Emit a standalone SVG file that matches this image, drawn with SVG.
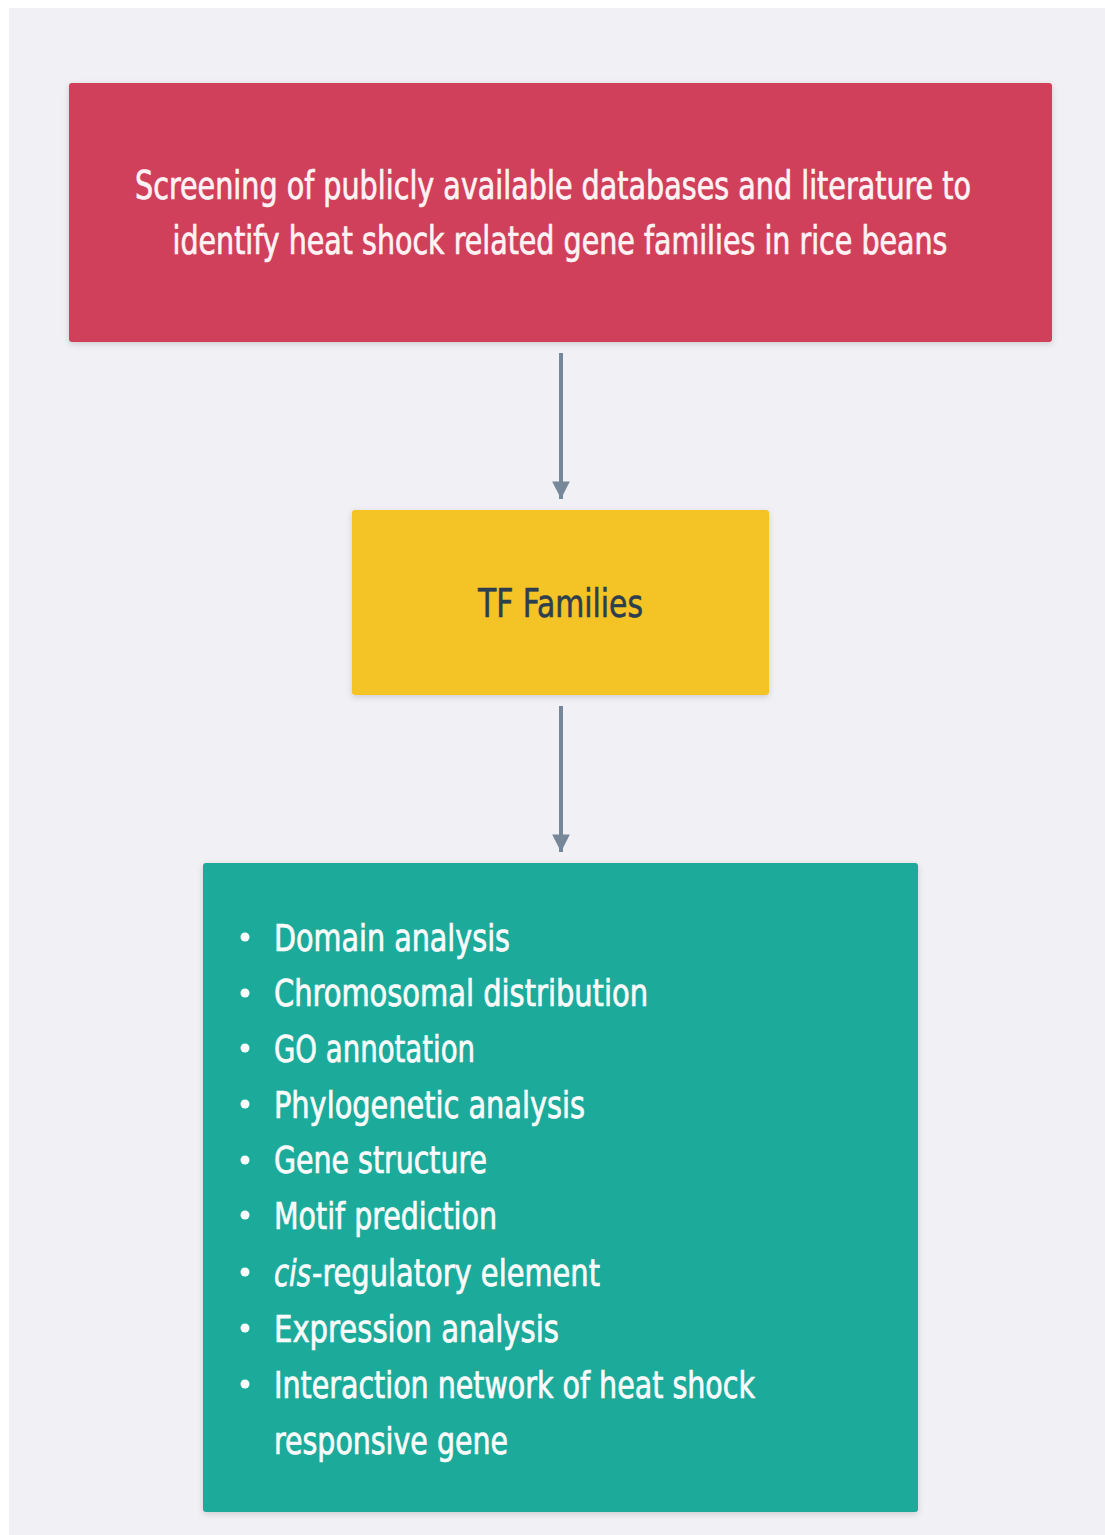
<svg xmlns="http://www.w3.org/2000/svg" width="1105" height="1535" viewBox="0 0 1105 1535">
<defs>
<filter id="sh" x="-5%" y="-5%" width="110%" height="115%">
<feDropShadow dx="0" dy="2" stdDeviation="3" flood-color="#000" flood-opacity="0.15"/>
</filter>
<marker id="ah" viewBox="0 0 10 10" refX="10" refY="5" markerWidth="4.4" markerHeight="4.4" orient="auto" markerUnits="strokeWidth">
<path d="M0,0 L10,5 L0,10 z" fill="#77879a"/>
</marker>
</defs>
<style>
.t{font-family:"DejaVu Sans Condensed","Roboto","Liberation Sans",sans-serif;}
.w{fill:#fbfbfb;stroke:#fbfbfb;stroke-width:0.7px;font-size:38px;}
.top{fill:#fdf3f5;stroke:#fdf3f5;stroke-width:0.7px;font-size:39px;}
.tf{fill:#2d3e4f;stroke:#2d3e4f;stroke-width:0.6px;font-size:39px;}
.conn{stroke:#77879a;stroke-width:4;fill:none;}
</style>
<rect x="0" y="0" width="1105" height="1535" fill="#ffffff"/>
<rect x="9" y="8" width="1096" height="1527" fill="#f0f0f5"/>
<g id="connectors">
<line class="conn" x1="561" y1="353" x2="561" y2="499" marker-end="url(#ah)"/>
<line class="conn" x1="561" y1="706" x2="561" y2="852" marker-end="url(#ah)"/>
</g>
<g id="node-screening">
<rect x="69" y="83" width="983" height="259" rx="3" fill="#d1405a" filter="url(#sh)"/>
<text class="t top" transform="translate(553,199) scale(0.75,1)" text-anchor="middle" textLength="1114.7" lengthAdjust="spacingAndGlyphs">Screening of publicly available databases and literature to</text>
<text class="t top" transform="translate(560,254) scale(0.75,1)" text-anchor="middle" textLength="1033.3" lengthAdjust="spacingAndGlyphs">identify heat shock related gene families in rice beans</text>
</g>
<g id="node-tf">
<rect x="352" y="510" width="417" height="185" rx="3" fill="#f4c325" filter="url(#sh)"/>
<text class="t tf" transform="translate(478,617) scale(0.75,1)" textLength="220" lengthAdjust="spacingAndGlyphs">TF Families</text>
</g>
<g id="node-analyses">
<rect x="203" y="863" width="715" height="649" rx="3" fill="#1bab9b" filter="url(#sh)"/>
<g fill="#fbfbfb">
<circle cx="245" cy="937" r="4.5"/>
<circle cx="245" cy="993" r="4.5"/>
<circle cx="245" cy="1048" r="4.5"/>
<circle cx="245" cy="1104" r="4.5"/>
<circle cx="245" cy="1160" r="4.5"/>
<circle cx="245" cy="1215" r="4.5"/>
<circle cx="245" cy="1272" r="4.5"/>
<circle cx="245" cy="1328" r="4.5"/>
<circle cx="245" cy="1384" r="4.5"/>
</g>
<text class="t w" transform="translate(274,951) scale(0.75,1)" textLength="314.7" lengthAdjust="spacingAndGlyphs">Domain analysis</text>
<text class="t w" transform="translate(274,1006) scale(0.75,1)" textLength="498.7" lengthAdjust="spacingAndGlyphs">Chromosomal distribution</text>
<text class="t w" transform="translate(274,1062) scale(0.75,1)" textLength="268" lengthAdjust="spacingAndGlyphs">GO annotation</text>
<text class="t w" transform="translate(274,1118) scale(0.75,1)" textLength="414.7" lengthAdjust="spacingAndGlyphs">Phylogenetic analysis</text>
<text class="t w" transform="translate(274,1173) scale(0.75,1)" textLength="284" lengthAdjust="spacingAndGlyphs">Gene structure</text>
<text class="t w" transform="translate(274,1229) scale(0.75,1)" textLength="297.3" lengthAdjust="spacingAndGlyphs">Motif prediction</text>
<text class="t w" transform="translate(274,1286) scale(0.75,1)" font-style="italic" textLength="49.3" lengthAdjust="spacingAndGlyphs">cis</text>
<text class="t w" transform="translate(312,1286) scale(0.75,1)" textLength="384" lengthAdjust="spacingAndGlyphs">-regulatory element</text>
<text class="t w" transform="translate(274,1342) scale(0.75,1)" textLength="380" lengthAdjust="spacingAndGlyphs">Expression analysis</text>
<text class="t w" transform="translate(274,1398) scale(0.75,1)" textLength="641.3" lengthAdjust="spacingAndGlyphs">Interaction network of heat shock</text>
<text class="t w" transform="translate(274,1454) scale(0.75,1)" textLength="312" lengthAdjust="spacingAndGlyphs">responsive gene</text>
</g>
</svg>
